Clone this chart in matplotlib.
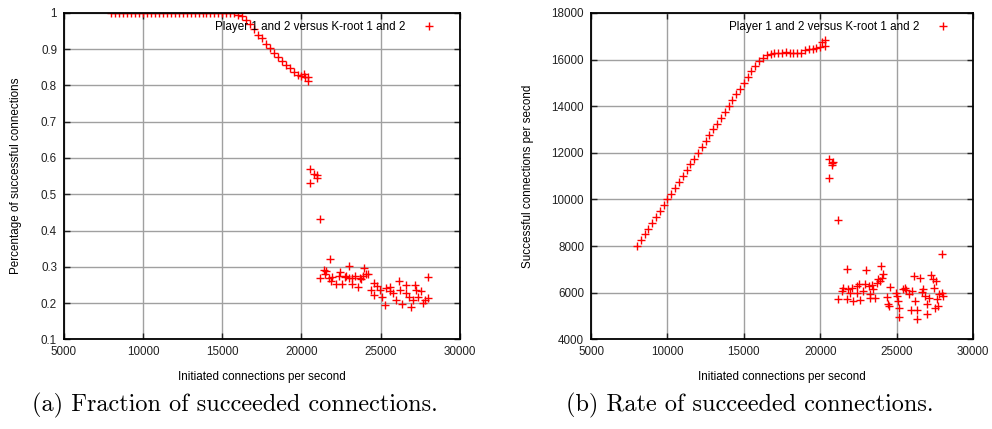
import matplotlib
matplotlib.use("Agg")
import matplotlib.pyplot as plt

# data
# (a) fraction of successful connections
frac_x = [8000, 8250, 8500, 8750, 9000, 9250, 9500, 9750, 10000, 10250, 10500, 10750,
          11000, 11250, 11500, 11750, 12000, 12250, 12500, 12750, 13000, 13250, 13500, 13750,
          14000, 14250, 14500, 14750, 15000, 15250, 15500, 15750, 16000, 16250, 16500, 16750,
          17000, 17250, 17500, 17750, 18000, 18250, 18500, 18750, 19000, 19250, 19500, 19750,
          20000, 20150, 20250, 20400, 20400,
          20570, 20780, 20990, 20990, 20570, 21160,
          21780, 21190, 21400, 21530, 21470, 21740, 21950, 21890, 22160, 22370, 22450, 22580,
          22730, 22840, 23000, 23000, 23210, 23210, 23360, 23570, 23680, 23930, 23890, 24100,
          24200, 23780,
          24560, 24410, 24560, 24770, 24940, 25100, 25250, 25320, 25570, 25570, 25780, 25990,
          26160, 26200, 26370, 26580, 26620, 26790, 26940, 27040, 27150, 27250, 27360, 27570,
          27680, 27780, 27990, 27990]
frac_y = [1.0, 1.0, 1.0, 1.0, 1.0, 1.0, 1.0, 1.0, 1.0, 1.0, 1.0, 1.0,
          1.0, 1.0, 1.0, 1.0, 1.0, 1.0, 1.0, 1.0, 1.0, 1.0, 1.0, 1.0,
          1.0, 1.0, 1.0, 1.0, 1.0, 1.0, 1.0, 0.999, 0.995, 0.99, 0.98, 0.97,
          0.955, 0.94, 0.93, 0.915, 0.902, 0.89, 0.877, 0.867, 0.857, 0.847, 0.838, 0.83,
          0.826, 0.831, 0.822, 0.824, 0.812,
          0.569, 0.556, 0.553, 0.544, 0.53, 0.431,
          0.322, 0.269, 0.29, 0.288, 0.28, 0.269, 0.272, 0.26, 0.253, 0.274, 0.286, 0.253,
          0.271, 0.274, 0.302, 0.27, 0.27, 0.253, 0.274, 0.244, 0.27, 0.297, 0.274, 0.279,
          0.281, 0.265,
          0.256, 0.237, 0.223, 0.246, 0.237, 0.216, 0.195, 0.242, 0.244, 0.232, 0.228, 0.209,
          0.26, 0.237, 0.197, 0.25, 0.228, 0.218, 0.19, 0.209, 0.25, 0.237, 0.218, 0.232,
          0.2, 0.209, 0.214, 0.272]

# (b) rate of successful connections
rate_x = [8000, 8250, 8500, 8750, 9000, 9250, 9500, 9750, 10000, 10250, 10500, 10750,
          11000, 11250, 11500, 11750, 12000, 12250, 12500, 12750, 13000, 13250, 13500, 13750,
          14000, 14250, 14500, 14750, 15000, 15250, 15500, 15750, 16000, 16250, 16500, 16750,
          17000, 17250, 17500, 17750, 18000, 18250, 18500, 18750, 19000, 19250, 19500, 19750,
          20000, 20100, 20300, 20300,
          20600, 20780, 20840, 20780, 20600, 21190,
          21770, 22990, 23970, 24130, 24020, 23800, 23910, 23690, 23360, 23210, 22930, 22560,
          22380, 22050, 21830, 21510, 21400, 21180, 21730, 22160, 22600, 21950, 22380, 22820,
          23250, 23470, 23250, 23580, 24560, 24390, 24450, 24480, 24960, 25000, 25110, 25170,
          25170, 25390, 25550, 25650, 25830, 25980, 26130, 26530, 26200, 25940, 26350, 26350,
          26750, 26640, 26850, 26960, 26960, 27230, 27400, 27570, 27440, 27140, 27620, 27730,
          27790, 27950, 28010, 28000, 27510]
rate_y = [8000, 8250, 8500, 8750, 9000, 9250, 9500, 9750, 10000, 10250, 10500, 10750,
          11000, 11250, 11500, 11750, 12000, 12250, 12500, 12750, 13000, 13250, 13500, 13750,
          14000, 14250, 14500, 14750, 15000, 15250, 15500, 15740, 15920, 16080, 16180, 16250,
          16280, 16300, 16270, 16340, 16300, 16260, 16290, 16300, 16400, 16430, 16460, 16480,
          16550, 16750, 16850, 16570,
          11720, 11550, 11610, 11490, 10900, 9120,
          7030, 6990, 7140, 6785, 6614, 6570, 6500, 6430, 6330, 6285, 6357, 6385,
          6285, 6210, 6140, 6210, 6070, 5715, 5715, 5640, 5670, 6000, 6000, 6070,
          5930, 6140, 5790, 5760, 6260, 5815, 5530, 5430, 6000, 5860, 5640, 5360,
          4970, 6170, 6210, 6100, 5960, 6070, 6710, 6640, 5640, 5240, 5240, 4860,
          6140, 6040, 5860, 5530, 5100, 6760, 6570, 6500, 6210, 5790, 5715, 5430,
          5930, 5970, 5860, 7640, 5360]

x_ticks = [5000, 10000, 15000, 20000, 25000, 30000]
frac_ticks = [0.1, 0.2, 0.3, 0.4, 0.5, 0.6, 0.7, 0.8, 0.9, 1.0]
frac_labels = ['0.1', '0.2', '0.3', '0.4', '0.5', '0.6', '0.7', '0.8', '0.9', '1']
rate_ticks = [4000, 6000, 8000, 10000, 12000, 14000, 16000, 18000]

series_name = 'Player 1 and 2 versus K-root 1 and 2'

plt.rcParams['font.family'] = ['Liberation Sans', 'DejaVu Sans']
plt.rcParams['font.size'] = 8.4

fig = plt.figure(figsize=(9.92, 4.29), dpi=100)
ax1 = fig.add_axes([0.0645, 0.209, 0.399, 0.761])
ax2 = fig.add_axes([0.5958, 0.209, 0.385, 0.761])


def style(ax):
    ax.grid(True, color='#a0a0a0', lw=1.0)
    ax.set_axisbelow(True)
    ax.tick_params(direction='in', length=4, width=1, top=True, right=True,
                   pad=5, labelsize=8.4, colors='#222222')
    for s in ax.spines.values():
        s.set_linewidth(1.3)
    ax.set_xlim(5000, 30000)
    ax.set_xticks(x_ticks)
    ax.set_xlabel('Initiated connections per second', fontsize=8.4)
    ax.xaxis.set_label_coords(0.5, -0.097)
    ax.legend(loc='upper right', frameon=False, markerfirst=False,
              fontsize=8.4, borderaxespad=0, handlelength=2.5, handletextpad=0.8,
              bbox_to_anchor=(0.972, 0.99))


ax1.plot(frac_x, frac_y, '+', color='red', ms=5.5, mew=1, label=series_name)
ax1.set_ylim(0.1, 1.0)
ax1.set_yticks(frac_ticks)
ax1.set_yticklabels(frac_labels)
ax1.set_ylabel('Percentage of successful connections', fontsize=8.4)
ax1.yaxis.set_label_coords(-0.106, 0.5)
style(ax1)

ax2.plot(rate_x, rate_y, '+', color='red', ms=5.5, mew=1, label=series_name)
ax2.set_ylim(4000, 18000)
ax2.set_yticks(rate_ticks)
ax2.set_ylabel('Successful connections per second', fontsize=8.4)
ax2.yaxis.set_label_coords(-0.149, 0.5)
style(ax2)

fig.text(0.237, 0.056, '(a) Fraction of succeeded connections.',
         family='cmr10', fontsize=17.5, ha='center', va='center')
fig.text(0.756, 0.056, '(b) Rate of succeeded connections.',
         family='cmr10', fontsize=17.5, ha='center', va='center')

fig.savefig('out.png', dpi=100)
